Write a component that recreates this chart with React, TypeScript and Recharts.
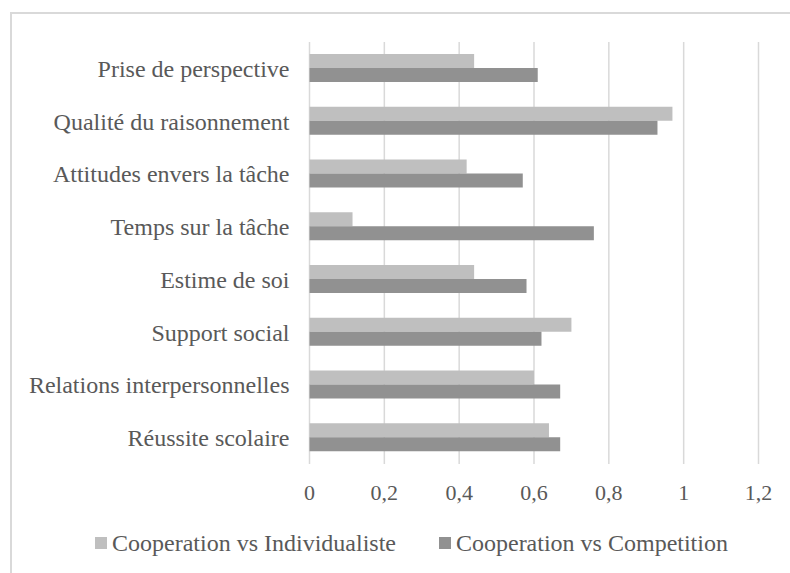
import { BarChart, Bar, XAxis, YAxis, CartesianGrid } from "recharts";

const FONT = '"Liberation Serif", "Times New Roman", serif';
const TEXT = "#595959";
const GRID = "#d9d9d9";
const LIGHT = "#bfbfbf";
const DARK = "#919191";

const categories = [
  "Prise de perspective",
  "Qualité du raisonnement",
  "Attitudes envers la tâche",
  "Temps sur la tâche",
  "Estime de soi",
  "Support social",
  "Relations interpersonnelles",
  "Réussite scolaire",
];
const individualiste = [0.44, 0.97, 0.42, 0.115, 0.44, 0.7, 0.6, 0.64];
const competition = [0.61, 0.93, 0.57, 0.76, 0.58, 0.62, 0.67, 0.67];
const xTicks = [0, 0.2, 0.4, 0.6, 0.8, 1, 1.2];

const SERIES = [
  { key: "individualiste", name: "Cooperation vs Individualiste", color: LIGHT },
  { key: "competition", name: "Cooperation vs Competition", color: DARK },
];

const data = categories.map((name, i) => ({
  name,
  individualiste: individualiste[i],
  competition: competition[i],
}));

const fmt = (v: number) => String(v).replace(".", ",");

export default function App() {
  return (
    <div
      style={{
        position: "absolute",
        left: 0,
        top: 0,
        width: 790,
        height: 573,
        overflow: "hidden",
        background: "#fff",
        fontFamily: FONT,
      }}
    >
      {/* chart frame, cropped on the right and bottom like the original */}
      <div
        style={{
          position: "absolute",
          left: 10,
          top: 12,
          width: 820,
          height: 620,
          border: `2px solid ${GRID}`,
        }}
      />
      <div style={{ position: "absolute", left: 0, top: 0 }}>
        <BarChart
          width={790}
          height={573}
          data={data}
          layout="vertical"
          margin={{ top: 42, right: 31.5, left: 14.5, bottom: 79 }}
          barSize={14}
          barGap={0}
        >
          <CartesianGrid horizontal={false} stroke={GRID} strokeWidth={1.5} />
          <XAxis
            type="number"
            domain={[0, 1.2]}
            ticks={xTicks}
            tickFormatter={fmt}
            axisLine={false}
            tickLine={false}
            tickMargin={14}
            height={30}
            tick={{ fill: TEXT, fontSize: 22, fontFamily: FONT }}
          />
          <YAxis
            type="category"
            dataKey="name"
            width={295}
            axisLine={false}
            tickLine={false}
            tickMargin={14}
            interval={0}
            tick={{ fill: TEXT, fontSize: 24, fontFamily: FONT }}
          />
          {SERIES.map((s) => (
            <Bar
              key={s.key}
              dataKey={s.key}
              name={s.name}
              fill={s.color}
              isAnimationActive={false}
            />
          ))}
        </BarChart>
      </div>
      {/* legend */}
      <div
        style={{
          position: "absolute",
          left: 95,
          top: 528,
          display: "flex",
          alignItems: "center",
          fontSize: 24,
          color: TEXT,
          lineHeight: "30px",
          whiteSpace: "nowrap",
        }}
      >
        {SERIES.map((s, i) => (
          <div
            key={s.key}
            style={{ display: "flex", alignItems: "center", marginRight: i === 0 ? 43 : 0 }}
          >
            <span
              style={{
                display: "inline-block",
                width: 12,
                height: 12,
                background: s.color,
                marginRight: 5,
              }}
            />
            <span>{s.name}</span>
          </div>
        ))}
      </div>
    </div>
  );
}
